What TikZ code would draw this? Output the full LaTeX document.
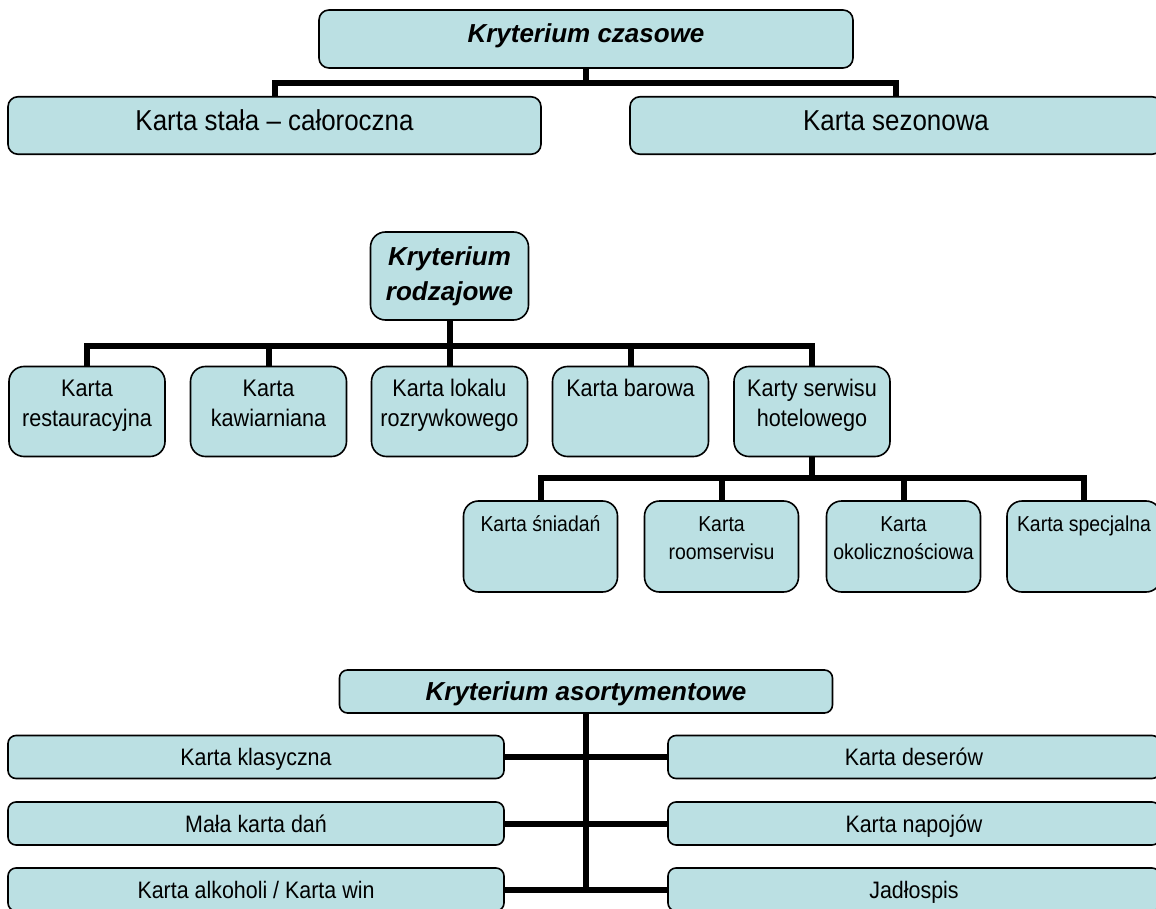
\documentclass[tikz,border=0pt]{standalone}
\usepackage{fontspec}
\setmainfont{Liberation Sans}
\newfontfamily\narrowfont[FakeStretch=0.9,Ligatures=TeX]{Liberation Sans}
\definecolor{boxfill}{RGB}{187,224,227}
\newcommand\topin[3]{\parbox[c][#2][t]{#1}{\centering\vspace*{12pt}\rule{0pt}{18pt}#3\par}}
\tikzset{
  box/.style={draw=black, fill=boxfill, line width=1.6pt, inner sep=0pt, outer sep=0pt, align=center},
  hdr/.style={box, font=\fontsize{26pt}{35pt}\selectfont\bfseries\itshape},
  bigbox/.style={box, rounded corners=10pt, font=\narrowfont\fontsize{28.8pt}{32pt}\selectfont,
                 text height=20.6pt, text depth=10pt},
  midbox/.style={box, rounded corners=15pt, font=\narrowfont\fontsize{24pt}{30pt}\selectfont},
  smallbox/.style={box, rounded corners=15pt, font=\narrowfont\fontsize{21.6pt}{28pt}\selectfont},
  rowbox/.style={box, rounded corners=8pt, font=\narrowfont\fontsize{23.8pt}{26pt}\selectfont,
                 text height=17pt, text depth=0pt},
  conn/.style={draw=black, line width=6pt, line join=miter}
}
\begin{document}
\begin{tikzpicture}[x=1pt,y=-1pt]
\useasboundingbox (0,0) rectangle (1156,909);
\fill[white] (0,0) rectangle (1156,909);

% ---------- Kryterium czasowe ----------
\coordinate (j1) at (586,83);
\node[hdr, rounded corners=10pt, minimum width=534pt, minimum height=58pt,
      text height=18.6pt, text depth=12pt] (h1) at (586,39) {Kryterium czasowe};
\node[bigbox, minimum width=533pt, minimum height=57.5pt] (t1) at (274.5,125.5) {Karta stała – całoroczna};
\node[bigbox, minimum width=532pt, minimum height=57.5pt] (t2) at (896,125.5) {Karta sezonowa};
\draw[conn] (h1.south) -- (j1);
\draw[conn] (t1.north) |- (j1) -| (t2.north);

% ---------- Kryterium rodzajowe ----------
\node[hdr, rounded corners=15pt, minimum width=158pt, minimum height=88pt] (h2) at (449.5,276) {Kryterium\\rodzajowe};
\coordinate (j2) at (449.5,346);
\node[midbox, minimum width=156pt, minimum height=90pt] (c1) at (87,411.5) {\topin{156pt}{90pt}{Karta\\restauracyjna}};
\node[midbox, minimum width=156pt, minimum height=90pt] (c2) at (268.5,411.5) {\topin{156pt}{90pt}{Karta\\kawiarniana}};
\node[midbox, minimum width=156pt, minimum height=90pt] (c3) at (449.5,411.5) {\topin{156pt}{90pt}{Karta lokalu\\rozrywkowego}};
\node[midbox, minimum width=156pt, minimum height=90pt] (c4) at (630.5,411.5) {\topin{156pt}{90pt}{Karta barowa}};
\node[midbox, minimum width=156pt, minimum height=90pt] (c5) at (812,411.5) {\topin{156pt}{90pt}{Karty serwisu\\hotelowego}};
\draw[conn] (h2.south) -- (c3.north);
\draw[conn] (c1.north) |- (j2) -| (c5.north);
\draw[conn] (c2.north) -- (c2.north |- j2);
\draw[conn] (c4.north) -- (c4.north |- j2);

\coordinate (j3) at (812,478);
\node[smallbox, minimum width=154pt, minimum height=91pt] (g1) at (540.5,546.5) {\topin{154pt}{91pt}{Karta śniadań}};
\node[smallbox, minimum width=154pt, minimum height=91pt] (g2) at (721.5,546.5) {\topin{154pt}{91pt}{Karta\\roomservisu}};
\node[smallbox, minimum width=154pt, minimum height=91pt] (g3) at (903.5,546.5) {\topin{154pt}{91pt}{Karta\\okolicznościowa}};
\node[smallbox, minimum width=154pt, minimum height=91pt] (g4) at (1084,546.5) {\topin{154pt}{91pt}{Karta specjalna}};
\draw[conn] (c5.south) -- (j3);
\draw[conn] (g1.north) |- (j3) -| (g4.north);
\draw[conn] (g2.north) -- (g2.north |- j3);
\draw[conn] (g3.north) -- (g3.north |- j3);

% ---------- Kryterium asortymentowe ----------
\node[hdr, rounded corners=8pt, minimum width=493pt, minimum height=43pt,
      text height=18.6pt, text depth=0pt] (h3) at (586,691.5) {Kryterium asortymentowe};
\node[rowbox, minimum width=496pt, minimum height=43pt] (l1) at (256,757) {Karta klasyczna};
\node[rowbox, minimum width=496pt, minimum height=43pt] (l2) at (256,823.5) {Mała karta dań};
\node[rowbox, minimum width=496pt, minimum height=43pt] (l3) at (256,889.5) {Karta alkoholi / Karta win};
\node[rowbox, minimum width=492pt, minimum height=43pt] (r1) at (914,757) {Karta deserów};
\node[rowbox, minimum width=492pt, minimum height=43pt] (r2) at (914,823.5) {Karta napojów};
\node[rowbox, minimum width=492pt, minimum height=43pt] (r3) at (914,889.5) {Jadłospis};
\draw[conn] (h3.south) -- (h3.south |- l3.east);
\draw[conn] (l1.east) -- (r1.west);
\draw[conn] (l2.east) -- (r2.west);
\draw[conn] (l3.east) -- (r3.west);
\end{tikzpicture}
\end{document}
